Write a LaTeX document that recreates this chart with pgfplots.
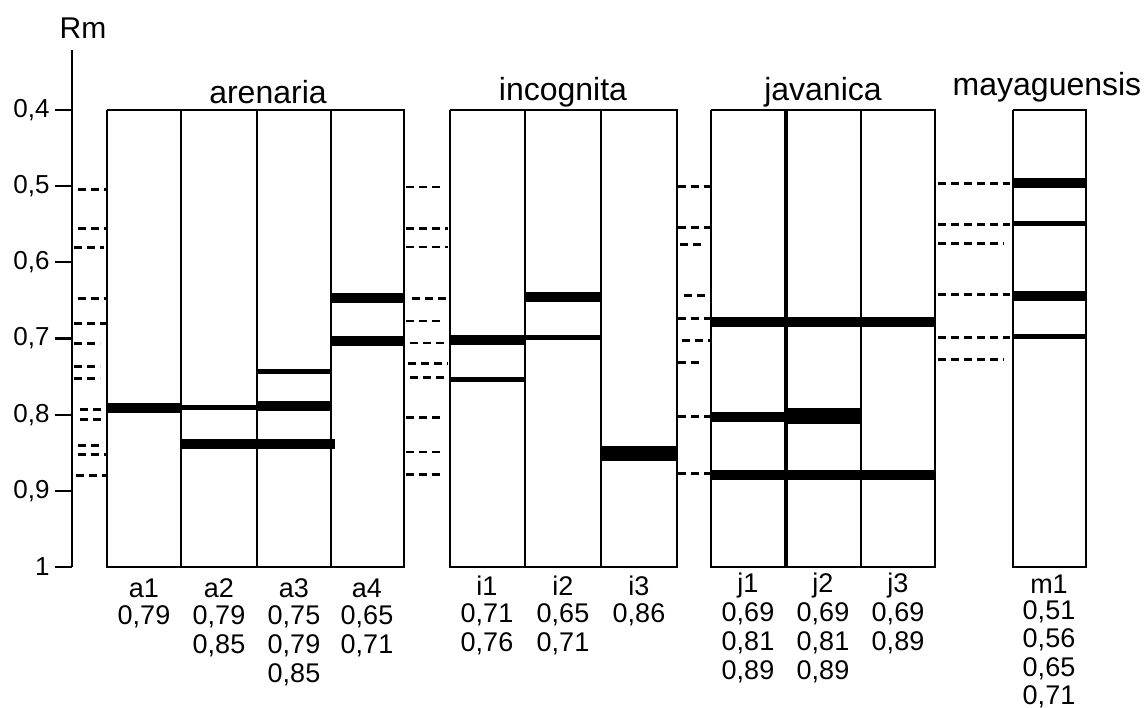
\documentclass[border=0pt]{standalone}
\usepackage{pgfplots}
\pgfplotsset{compat=1.18}
\usepackage{fontspec}
\setmainfont{Liberation Sans}
\newcommand{\lab}{\fontsize{13.5}{15}\selectfont}
\newcommand{\tck}{\fontsize{13}{15}\selectfont}
\newcommand{\ttl}{\fontsize{16}{18}\selectfont}
\begin{document}
\begin{tikzpicture}
\begin{axis}[
  scale only axis, width=573.5pt, height=354pt,
  xmin=0, xmax=1147, ymin=0.2556, ymax=1.1851, y dir=reverse,
  hide axis, clip=false, unbounded coords=jump,
  dsh/.style={black, line width=1.4pt, dash pattern=on 4pt off 2.5pt},
  box/.style={black, line width=1.1pt},
  thick band/.style={black, line width=5pt},
  thin band/.style={black, line width=2.5pt},
]
% invisible bounding box
\addplot[draw=none] coordinates {(0,0.2556)(1147,1.1851)};
% y axis and ticks
\addplot[box] coordinates {(72,0.3212)(72,1)};
\addplot[box] coordinates {(55,0.4)(72,0.4) (0,nan) (55,0.5)(72,0.5) (0,nan) (55,0.6)(72,0.6) (0,nan) (55,0.7)(72,0.7) (0,nan) (55,0.8)(72,0.8) (0,nan) (55,0.9)(72,0.9) (0,nan) (55,1)(72,1)};
\node[anchor=east, inner sep=0pt, font=\tck] at (axis cs:50,0.4) {0,4};
\node[anchor=east, inner sep=0pt, font=\tck] at (axis cs:50,0.5) {0,5};
\node[anchor=east, inner sep=0pt, font=\tck] at (axis cs:50,0.6) {0,6};
\node[anchor=east, inner sep=0pt, font=\tck] at (axis cs:50,0.7) {0,7};
\node[anchor=east, inner sep=0pt, font=\tck] at (axis cs:50,0.8) {0,8};
\node[anchor=east, inner sep=0pt, font=\tck] at (axis cs:50,0.9) {0,9};
\node[anchor=east, inner sep=0pt, font=\tck] at (axis cs:50,1) {1};
\node[inner sep=0pt, font=\fontsize{15}{17}\selectfont] at (axis cs:83,0.2923) {Rm};

% lane boxes: arenaria
\addplot[box] coordinates {(107,0.4)(404,0.4)(404,1)(107,1)(107,0.4) (0,nan) (181,0.4)(181,1) (0,nan) (257,0.4)(257,1) (0,nan) (331,0.4)(331,1)};
% incognita
\addplot[box] coordinates {(450,0.4)(677,0.4)(677,1)(450,1)(450,0.4) (0,nan) (525,0.4)(525,1) (0,nan) (601,0.4)(601,1)};
% javanica
\addplot[box] coordinates {(711,0.4)(935,0.4)(935,1)(711,1)(711,0.4) (0,nan) (861,0.4)(861,1)};
\addplot[black, line width=1.8pt] coordinates {(786,0.4)(786,1)};
% mayaguensis
\addplot[box] coordinates {(1013,0.4)(1086,0.4)(1086,1)(1013,1)(1013,0.4)};

% bands arenaria
\addplot[thick band] coordinates {(107,0.7912)(182,0.7912)};
\addplot[thin band] coordinates {(181,0.7905)(257,0.7905)};
\addplot[thin band] coordinates {(257,0.7427)(331,0.7427)};
\addplot[thick band] coordinates {(257,0.7886)(332,0.7886)};
\addplot[thick band] coordinates {(181,0.8385)(335,0.8385)};
\addplot[thick band] coordinates {(331,0.6468)(404,0.6468)};
\addplot[thick band] coordinates {(331,0.7033)(404,0.7033)};
% bands incognita
\addplot[thick band] coordinates {(450,0.7020)(525,0.7020)};
\addplot[thin band] coordinates {(450,0.7532)(525,0.7532)};
\addplot[thick band] coordinates {(525,0.6455)(601,0.6455)};
\addplot[thin band] coordinates {(525,0.6993)(601,0.6993)};
\addplot[black, line width=7.5pt] coordinates {(601,0.8516)(677,0.8516)};
% bands javanica
\addplot[thick band] coordinates {(711,0.6783)(935,0.6783)};
\addplot[thick band] coordinates {(711,0.8030)(786,0.8030)};
\addplot[black, line width=8pt] coordinates {(786,0.8017)(861,0.8017)};
\addplot[thick band] coordinates {(711,0.8792)(935,0.8792)};
% bands mayaguensis
\addplot[thick band] coordinates {(1013,0.4958)(1086,0.4958)};
\addplot[thin band] coordinates {(1013,0.5484)(1086,0.5484)};
\addplot[thick band] coordinates {(1013,0.6442)(1086,0.6442)};
\addplot[thin band] coordinates {(1013,0.6980)(1086,0.6980)};

% dashed reference lines: left of arenaria
\addplot[dsh] coordinates {(78,0.504)(106,0.504) (0,nan) (78,0.556)(106,0.556) (0,nan) (74,0.581)(104,0.581) (0,nan) (78,0.648)(106,0.648) (0,nan) (74,0.680)(106,0.680) (0,nan) (74,0.707)(100,0.707) (0,nan) (74,0.737)(100,0.737) (0,nan) (74,0.753)(100,0.753) (0,nan) (80,0.793)(106,0.793) (0,nan) (80,0.806)(106,0.806) (0,nan) (78,0.840)(102,0.840) (0,nan) (78,0.852)(106,0.852) (0,nan) (76,0.880)(106,0.880)};
% between arenaria and incognita
\addplot[dsh] coordinates {(406,0.501)(440,0.501) (0,nan) (406,0.556)(448,0.556) (0,nan) (406,0.580)(448,0.580) (0,nan) (412,0.647)(448,0.647) (0,nan) (406,0.677)(440,0.677) (0,nan) (410,0.706)(448,0.706) (0,nan) (408,0.733)(448,0.733) (0,nan) (410,0.751)(448,0.751) (0,nan) (406,0.804)(444,0.804) (0,nan) (406,0.849)(444,0.849) (0,nan) (406,0.879)(444,0.879)};
% between incognita and javanica
\addplot[dsh] coordinates {(678,0.500)(710,0.500) (0,nan) (678,0.554)(710,0.554) (0,nan) (680,0.577)(704,0.577) (0,nan) (684,0.644)(708,0.644) (0,nan) (678,0.674)(710,0.674) (0,nan) (682,0.703)(710,0.703) (0,nan) (678,0.731)(704,0.731) (0,nan) (678,0.802)(710,0.802) (0,nan) (678,0.877)(710,0.877)};
% between javanica and mayaguensis
\addplot[dsh] coordinates {(938,0.497)(1010,0.497) (0,nan) (938,0.550)(1010,0.550) (0,nan) (938,0.575)(1004,0.575) (0,nan) (938,0.642)(1010,0.642) (0,nan) (938,0.699)(1010,0.699) (0,nan) (938,0.728)(1004,0.728)};

% group titles
\node[font=\ttl, inner sep=0pt] at (axis cs:268,0.3764) {arenaria};
\node[font=\ttl, inner sep=0pt] at (axis cs:563,0.3764) {incognita};
\node[font=\ttl, inner sep=0pt] at (axis cs:823,0.3764) {javanica};
\node[font=\ttl, inner sep=0pt] at (axis cs:1047,0.3698) {mayaguensis};

% lane labels
\node[font=\lab, inner sep=0pt] at (axis cs:144,1.0276) {a1};
\node[font=\lab, inner sep=0pt] at (axis cs:144,1.0657) {0,79};
\node[font=\lab, inner sep=0pt] at (axis cs:219,1.0276) {a2};
\node[font=\lab, inner sep=0pt] at (axis cs:219,1.0657) {0,79};
\node[font=\lab, inner sep=0pt] at (axis cs:219,1.1038) {0,85};
\node[font=\lab, inner sep=0pt] at (axis cs:294,1.0276) {a3};
\node[font=\lab, inner sep=0pt] at (axis cs:294,1.0657) {0,75};
\node[font=\lab, inner sep=0pt] at (axis cs:294,1.1038) {0,79};
\node[font=\lab, inner sep=0pt] at (axis cs:294,1.1418) {0,85};
\node[font=\lab, inner sep=0pt] at (axis cs:367,1.0276) {a4};
\node[font=\lab, inner sep=0pt] at (axis cs:367,1.0657) {0,65};
\node[font=\lab, inner sep=0pt] at (axis cs:367,1.1038) {0,71};

\node[font=\lab, inner sep=0pt] at (axis cs:487,1.0250) {i1};
\node[font=\lab, inner sep=0pt] at (axis cs:487,1.0631) {0,71};
\node[font=\lab, inner sep=0pt] at (axis cs:487,1.1012) {0,76};
\node[font=\lab, inner sep=0pt] at (axis cs:563,1.0250) {i2};
\node[font=\lab, inner sep=0pt] at (axis cs:563,1.0631) {0,65};
\node[font=\lab, inner sep=0pt] at (axis cs:563,1.1012) {0,71};
\node[font=\lab, inner sep=0pt] at (axis cs:639,1.0250) {i3};
\node[font=\lab, inner sep=0pt] at (axis cs:639,1.0631) {0,86};

\node[font=\lab, inner sep=0pt] at (axis cs:748,1.0237) {j1};
\node[font=\lab, inner sep=0pt] at (axis cs:748,1.0618) {0,69};
\node[font=\lab, inner sep=0pt] at (axis cs:748,1.0998) {0,81};
\node[font=\lab, inner sep=0pt] at (axis cs:748,1.1379) {0,89};
\node[font=\lab, inner sep=0pt] at (axis cs:823,1.0237) {j2};
\node[font=\lab, inner sep=0pt] at (axis cs:823,1.0618) {0,69};
\node[font=\lab, inner sep=0pt] at (axis cs:823,1.0998) {0,81};
\node[font=\lab, inner sep=0pt] at (axis cs:823,1.1379) {0,89};
\node[font=\lab, inner sep=0pt] at (axis cs:898,1.0237) {j3};
\node[font=\lab, inner sep=0pt] at (axis cs:898,1.0618) {0,69};
\node[font=\lab, inner sep=0pt] at (axis cs:898,1.0998) {0,89};

\node[font=\lab, inner sep=0pt] at (axis cs:1049,1.0227) {m1};
\node[font=\lab, inner sep=0pt] at (axis cs:1049,1.0594) {0,51};
\node[font=\lab, inner sep=0pt] at (axis cs:1049,1.0962) {0,56};
\node[font=\lab, inner sep=0pt] at (axis cs:1049,1.1330) {0,65};
\node[font=\lab, inner sep=0pt] at (axis cs:1049,1.1700) {0,71};
\end{axis}
\end{tikzpicture}
\end{document}
